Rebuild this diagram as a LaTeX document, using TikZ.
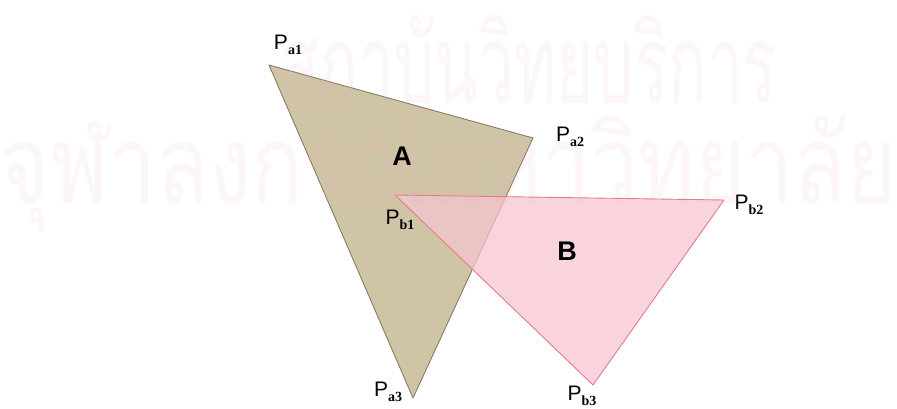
\documentclass[tikz,border=0pt]{standalone}
\usepackage{fontspec}
\setmainfont{Liberation Sans}
\newfontfamily\subfont{Liberation Serif}
\newfontfamily\thaifont[Script=Thai]{Loma}
\usetikzlibrary{positioning}

\definecolor{tanfill}{RGB}{208,196,166}
\definecolor{tanline}{RGB}{135,124,100}
\definecolor{pinkfill}{RGB}{246,196,208}
\definecolor{pinkline}{RGB}{230,120,145}
\definecolor{wmark}{RGB}{238,170,195}

% vertex name: P with a low bold serif subscript
\newcommand{\vname}[1]{P\raisebox{-0.45ex}{\subfont\bfseries\fontsize{14}{14}\selectfont #1}}

\begin{document}
\begin{tikzpicture}[
  x=1pt, y=-1pt,
  vlabel/.style={inner sep=0pt, font=\fontsize{21}{24}\selectfont},
  tlabel/.style={inner sep=0pt, font=\fontsize{27}{30}\selectfont\bfseries},
  wmtext/.style={inner sep=0pt, anchor=base, text=wmark, text opacity=0.11, transform shape,
    font=\fontsize{110}{120}\selectfont\thaifont},
  triA/.style={fill=tanfill, draw=tanline, line width=0.9pt, line join=round},
  triB/.style={fill=pinkfill, fill opacity=0.72, draw=pinkline, line width=0.9pt, line join=round}
]
\useasboundingbox (0,0) rectangle (897,408);

% =========================
% Triangle A
% =========================
\coordinate (pa1) at (269,65);
\coordinate (pa2) at (533,138);
\coordinate (pa3) at (413,398);

\draw[triA] (pa1) -- (pa2) -- (pa3) -- cycle;

% =========================
% Triangle B
% =========================
\coordinate (pb1) at (395,195);
\coordinate (pb2) at (724,200);
\coordinate (pb3) at (593,385);

\draw[triB] (pb1) -- (pb2) -- (pb3) -- cycle;

% =========================
% Labels
% =========================
\node[tlabel] (la) at (402,156) {A};
\node[tlabel] (lb) at (567,251) {B};

\node[vlabel] (lpa1) at (288,45) {\vname{a1}};
\node[vlabel] (lpa2) at (570,137) {\vname{a2}};
\node[vlabel] (lpa3) at (388,392) {\vname{a3}};
\node[vlabel] (lpb1) at (400,220) {\vname{b1}};
\node[vlabel] (lpb2) at (749,205) {\vname{b2}};
\node[vlabel] (lpb3) at (582,396) {\vname{b3}};

% =========================
% Faint watermark on top
% =========================
\node[wmtext, xscale=0.58] (wm1) at (529,103) {สถาบันวิทยบริการ};
\node[wmtext, xscale=0.78] (wm2) at (448,203) {จุฬาลงกรณ์มหาวิทยาลัย};

\end{tikzpicture}
\end{document}
